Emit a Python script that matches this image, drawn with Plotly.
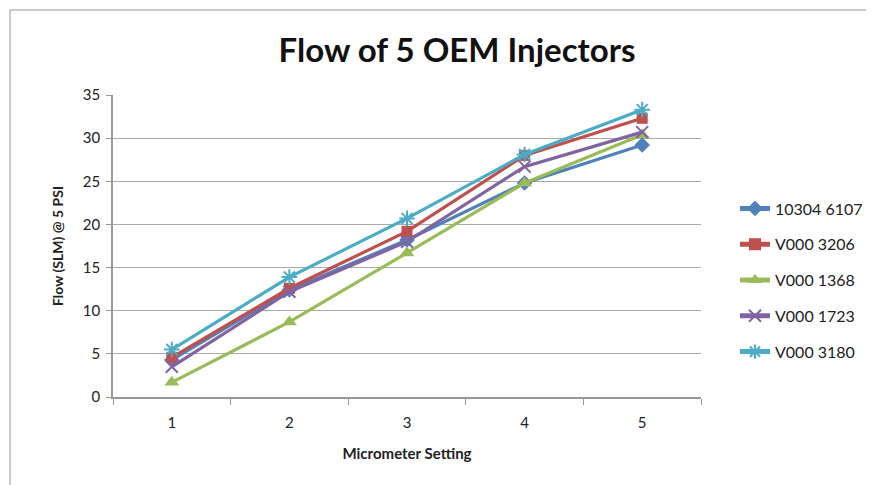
import plotly.graph_objects as go

settings = ["1", "2", "3", "4", "5"]
series_names = ["10304 6107", "V000 3206", "V000 1368", "V000 1723", "V000 3180"]
s_10304_6107 = [4.3, 12.4, 18.2, 24.8, 29.2]
s_v000_3206 = [4.6, 12.6, 19.2, 28.0, 32.3]
s_v000_1368 = [1.7, 8.7, 16.7, 24.8, 30.4]
s_v000_1723 = [3.5, 12.2, 18.0, 26.7, 30.7]
s_v000_3180 = [5.5, 13.9, 20.7, 28.1, 33.3]

values = [s_10304_6107, s_v000_3206, s_v000_1368, s_v000_1723, s_v000_3180]
colors = ["#4F81BD", "#C0504D", "#9BBB59", "#8064A2", "#4BACC6"]
symbols = ["diamond", "square", "triangle-up", "x-thin", "asterisk"]
sizes = [12, 11, 13, 12, 13]

fig = go.Figure()
for i, (name, vals, c, sym, sz) in enumerate(zip(series_names, values, colors, symbols, sizes)):
    thin = sym in ("x-thin", "asterisk")
    fig.add_trace(go.Scatter(
        x=settings, y=vals, name=name, mode="lines+markers", legendgroup="g%d" % i,
        line=dict(color=c, width=3.2),
        marker=dict(symbol=sym, size=sz, color=c,
                    line=dict(color=c, width=2 if thin else 0)),
    ))

# page body has an 8px margin: work in figure pixels = screen pixels - 8
OFF = 8
W, H = 874 - OFF, 485 - OFF
L = 113 - OFF
T = 95 - OFF
R = W - (701 - OFF)
B = H - (397 - OFF)
pw, ph = W - L - R, H - T - B
x0 = (10 - OFF - L) / pw
y1 = 1 + (T - (10 - OFF)) / ph

fig.update_layout(
    template="none",
    width=W, height=H,
    margin=dict(l=L, r=R, t=T, b=B, autoexpand=False),
    paper_bgcolor="white", plot_bgcolor="white",
    font=dict(family="Lato, Open Sans, sans-serif", color="#222"),
    title=dict(text="<b>Flow of 5 OEM Injectors</b>", x=(457 - OFF) / W, xanchor="center",
               y=1 - (50 - OFF) / H, yanchor="middle", font=dict(size=33, color="#111")),
    showlegend=True,
    legend=dict(x=1 + (735 - 701) / pw, xanchor="left",
                y=1 - (280 - 95) / ph, yanchor="middle",
                font=dict(size=16, color="#222"), tracegroupgap=12, traceorder="grouped",
                itemsizing="constant", bgcolor="rgba(0,0,0,0)", borderwidth=0),
    xaxis=dict(type="category", range=[-0.5, 4.5], tickson="boundaries", ticks="outside", ticklen=6,
               tickcolor="#999", showline=True, linecolor="#999", linewidth=1.5,
               showgrid=False, tickfont=dict(size=15), automargin=False,
               ticklabelstandoff=11,
               title=dict(text="<b>Micrometer Setting</b>", font=dict(size=15), standoff=19)),
    yaxis=dict(range=[0, 35], dtick=5, ticks="outside", ticklen=5, tickcolor="#999",
               showline=True, linecolor="#999", linewidth=1.5, automargin=False,
               showgrid=True, gridcolor="#AAAAAA", gridwidth=1.2, zeroline=False,
               tickfont=dict(size=15), ticklabelstandoff=3,
               title=dict(text="<b>Flow (SLM) @ 5 PSI</b>", font=dict(size=14), standoff=16)),
    shapes=[dict(type="rect", xref="paper", yref="paper", x0=x0, x1=1 + (R + 20) / pw,
                 y0=-(B + 20) / ph, y1=y1, line=dict(color="#BBBBBB", width=1.5),
                 fillcolor="rgba(0,0,0,0)", layer="below")],
)

fig.write_html("out.html")
